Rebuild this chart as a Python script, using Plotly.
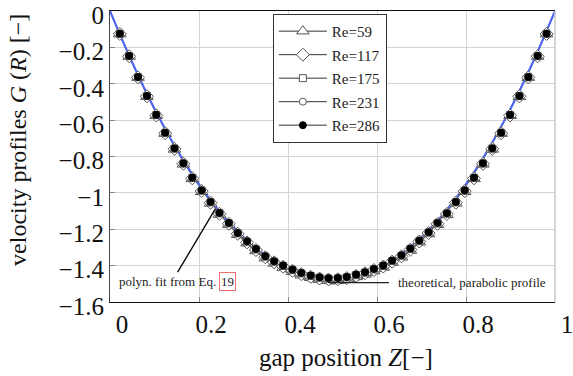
import plotly.graph_objects as go

# ---------------- data ----------------
Z = [0.022, 0.043, 0.063, 0.083, 0.104, 0.124, 0.145, 0.165, 0.185, 0.206,
     0.226, 0.246, 0.267, 0.287, 0.308, 0.328, 0.349, 0.369, 0.389, 0.410,
     0.430, 0.451, 0.471, 0.491, 0.512, 0.532, 0.553, 0.573, 0.593, 0.614,
     0.634, 0.655, 0.675, 0.695, 0.716, 0.736, 0.757, 0.777, 0.797, 0.818,
     0.838, 0.859, 0.879, 0.899, 0.920, 0.940, 0.961, 0.981]

re59 = [-0.127, -0.250, -0.366, -0.471, -0.576, -0.674, -0.761, -0.843, -0.923, -0.994,
        -1.058, -1.119, -1.175, -1.230, -1.277, -1.319, -1.359, -1.388, -1.412, -1.434,
        -1.453, -1.467, -1.477, -1.482, -1.481, -1.475, -1.462, -1.448, -1.430, -1.410,
        -1.383, -1.354, -1.317, -1.272, -1.226, -1.175, -1.121, -1.058, -0.994, -0.923,
        -0.843, -0.761, -0.674, -0.576, -0.471, -0.366, -0.250, -0.127]
re117 = [-0.126, -0.249, -0.365, -0.469, -0.574, -0.672, -0.758, -0.840, -0.920, -0.990,
         -1.054, -1.115, -1.170, -1.225, -1.272, -1.314, -1.354, -1.382, -1.406, -1.428,
         -1.447, -1.461, -1.471, -1.476, -1.475, -1.469, -1.456, -1.442, -1.424, -1.405,
         -1.378, -1.349, -1.312, -1.267, -1.221, -1.170, -1.116, -1.054, -0.990, -0.920,
         -0.840, -0.758, -0.672, -0.574, -0.469, -0.365, -0.249, -0.126]
re175 = [-0.125, -0.248, -0.364, -0.468, -0.572, -0.670, -0.757, -0.839, -0.918, -0.988,
         -1.052, -1.112, -1.168, -1.223, -1.269, -1.311, -1.351, -1.379, -1.402, -1.424,
         -1.443, -1.457, -1.467, -1.472, -1.471, -1.465, -1.452, -1.439, -1.421, -1.402,
         -1.375, -1.346, -1.309, -1.265, -1.219, -1.168, -1.114, -1.052, -0.988, -0.918,
         -0.839, -0.757, -0.670, -0.572, -0.468, -0.364, -0.248, -0.125]
re231 = [-0.125, -0.247, -0.363, -0.467, -0.571, -0.669, -0.756, -0.838, -0.917, -0.987,
         -1.051, -1.111, -1.166, -1.221, -1.267, -1.309, -1.349, -1.377, -1.400, -1.422,
         -1.441, -1.455, -1.465, -1.470, -1.469, -1.463, -1.450, -1.437, -1.419, -1.400,
         -1.373, -1.344, -1.307, -1.263, -1.217, -1.166, -1.113, -1.051, -0.987, -0.917,
         -0.838, -0.756, -0.669, -0.571, -0.467, -0.363, -0.247, -0.125]
re286 = [-0.125, -0.247, -0.363, -0.467, -0.571, -0.669, -0.755, -0.837, -0.916, -0.986,
         -1.050, -1.110, -1.165, -1.220, -1.266, -1.308, -1.348, -1.376, -1.399, -1.421,
         -1.440, -1.454, -1.464, -1.469, -1.468, -1.462, -1.449, -1.436, -1.418, -1.399,
         -1.372, -1.343, -1.306, -1.262, -1.216, -1.165, -1.112, -1.050, -0.986, -0.916,
         -0.837, -0.755, -0.669, -0.571, -0.467, -0.363, -0.247, -0.125]

Z_line = [0.0, 0.05, 0.10, 0.15, 0.20, 0.25, 0.30, 0.35, 0.40, 0.45, 0.50,
          0.55, 0.60, 0.65, 0.70, 0.75, 0.80, 0.85, 0.90, 0.95, 1.0]
theory = [0.0, -0.285, -0.540, -0.765, -0.960, -1.125, -1.260, -1.365, -1.440, -1.485, -1.500,
          -1.485, -1.440, -1.365, -1.260, -1.125, -0.960, -0.765, -0.540, -0.285, 0.0]
fit = [0.0, -0.283, -0.537, -0.760, -0.952, -1.113, -1.243, -1.343, -1.416, -1.463, -1.478,
       -1.463, -1.416, -1.343, -1.243, -1.113, -0.952, -0.760, -0.537, -0.283, 0.0]

series_names = ["Re=59", "Re=117", "Re=175", "Re=231", "Re=286"]
series_vals = [re59, re117, re175, re231, re286]

x_ticks = [0, 0.2, 0.4, 0.6, 0.8, 1]
x_ticktext = ["0", "0.2", "0.4", "0.6", "0.8", "1"]
y_ticks = [0, -0.2, -0.4, -0.6, -0.8, -1, -1.2, -1.4, -1.6]
y_ticktext = ["0", "\u22120.2", "\u22120.4", "\u22120.6", "\u22120.8", "\u22121",
              "\u22121.2", "\u22121.4", "\u22121.6"]

# ---------------- styles ----------------
FONT = "Liberation Serif"
marker_styles = [
    dict(symbol="triangle-up", size=11, color="white", line=dict(color="#555", width=1)),
    dict(symbol="diamond", size=10, color="white", line=dict(color="#555", width=1)),
    dict(symbol="square", size=7, color="white", line=dict(color="#555", width=1)),
    dict(symbol="circle", size=7, color="white", line=dict(color="#555", width=1)),
    dict(symbol="circle", size=7, color="black", line=dict(color="black", width=1)),
]

fig = go.Figure()

fig.add_trace(go.Scatter(x=Z_line, y=theory, mode="lines", line=dict(color="#666", width=1.5, shape="spline"),
                         showlegend=False, hoverinfo="skip"))
fig.add_trace(go.Scatter(x=Z_line, y=fit, mode="lines", line=dict(color="#4a66f5", width=2, shape="spline"),
                         showlegend=False, hoverinfo="skip"))

for name, vals, ms in zip(series_names, series_vals, marker_styles):
    fig.add_trace(go.Scatter(x=Z, y=vals, mode="markers", marker=ms, name=name, showlegend=False))

for i, (name, ms) in enumerate(zip(series_names, marker_styles)):
    fig.add_trace(go.Scatter(x=[None], y=[None], mode="lines+markers", name=name, marker=ms,
                             line=dict(color="#333", width=1), legendgroup=f"g{i}"))

fig.update_layout(
    width=573, height=376,
    margin=dict(l=110, r=18, t=11, b=74, autoexpand=False),
    paper_bgcolor="white", plot_bgcolor="white",
    font=dict(family=FONT, color="#111"),
    showlegend=True,
    legend=dict(x=0.366, y=0.99, xanchor="left", yanchor="top",
                bgcolor="white", bordercolor="#333", borderwidth=1,
                font=dict(family=FONT, size=15, color="#222"),
                tracegroupgap=1, traceorder="grouped", itemwidth=48),
)

fig.update_xaxes(range=[0, 1], tickvals=x_ticks, ticktext=x_ticktext,
                 showgrid=True, gridcolor="#d4d4d4", gridwidth=1,
                 showline=True, linecolor="#111", linewidth=1.2, mirror=True,
                 ticks="inside", ticklen=5, tickcolor="#888",
                 tickfont=dict(family=FONT, size=25, color="#111"), ticklabelshift=12,
                 ticklabeloverflow="allow", automargin=False,
                 zeroline=False)
fig.update_yaxes(range=[-1.6, 0], tickvals=y_ticks, ticktext=y_ticktext,
                 showgrid=True, gridcolor="#d4d4d4", gridwidth=1,
                 showline=True, linecolor="#444", linewidth=1.2, mirror=False,
                 ticks="inside", ticklen=5, tickcolor="#888",
                 tickfont=dict(family=FONT, size=25, color="#111"), ticklabelshift=4,
                 ticklabeloverflow="allow", automargin=False,
                 zeroline=False)

# axis titles
fig.add_annotation(x=0.530, y=-0.192, xref="paper", yref="paper",
                   text="gap position <i>Z</i>[\u2212]", showarrow=False,
                   xanchor="center", yanchor="middle",
                   font=dict(family=FONT, size=25, color="#111"))
fig.add_annotation(x=-0.2067, y=0.557, xref="paper", yref="paper",
                   text="velocity profiles <i>G</i> (<i>R</i>) [\u2212]", showarrow=False,
                   textangle=-90, xanchor="center", yanchor="middle",
                   font=dict(family=FONT, size=24, color="#111"))

# right frame edge (light gray)
fig.add_shape(type="line", xref="paper", yref="paper", x0=1, x1=1, y0=0, y1=1,
              line=dict(color="#c8c8c8", width=1.5))

# annotations
fig.add_shape(type="line", xref="x", yref="y", x0=0.152, y0=-1.436, x1=0.2366, y1=-1.088,
              line=dict(color="black", width=1.3))
fig.add_annotation(x=0.016, y=-1.486, xref="x", yref="y", text="polyn. fit from Eq.",
                   showarrow=False, xanchor="left", yanchor="middle",
                   font=dict(family=FONT, size=13, color="#222"))
fig.add_annotation(x=0.263, y=-1.486, xref="x", yref="y", text="19",
                   showarrow=False, xanchor="center", yanchor="middle",
                   bordercolor="#f07070", borderwidth=1, borderpad=1, bgcolor="white",
                   font=dict(family=FONT, size=13, color="#222"))
fig.add_shape(type="line", xref="x", yref="y", x0=0.49, y0=-1.493, x1=0.627, y1=-1.493,
              line=dict(color="#222", width=1.3))
fig.add_annotation(x=0.643, y=-1.493, xref="x", yref="y", text="theoretical, parabolic profile",
                   showarrow=False, xanchor="left", yanchor="middle",
                   font=dict(family=FONT, size=13, color="#222"))

fig.write_html("out.html")
